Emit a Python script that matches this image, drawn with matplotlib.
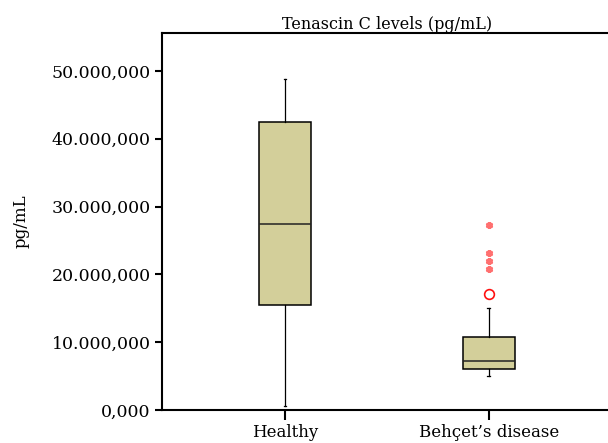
import matplotlib
matplotlib.use("Agg")
import matplotlib.pyplot as plt
from matplotlib.ticker import FuncFormatter

plt.rcParams['font.family'] = ['DejaVu Serif']

# box statistics (pg/mL)
groups = ["Healthy", "Behçet\u2019s disease"]
whisker_low = [0.6e6, 5.0e6]
q1 = [15.5e6, 6.0e6]
median = [27.4e6, 7.2e6]
q3 = [42.5e6, 10.8e6]
whisker_high = [48.8e6, 15.0e6]

# outliers of the Behçet's group
circle_outliers = [17.1e6]
star_outliers = [20.8e6, 22.0e6, 23.2e6, 27.3e6]

box_color = '#D3CF9A'

fig = plt.figure(figsize=(6.08, 4.43), dpi=100)
ax = fig.add_axes([0.2664, 0.0745, 0.74, 0.851])

stats = []
for i, g in enumerate(groups):
    stats.append({
        'label': g, 'whislo': whisker_low[i], 'q1': q1[i], 'med': median[i],
        'q3': q3[i], 'whishi': whisker_high[i], 'fliers': [],
    })

ax.bxp(stats, positions=[1, 2], widths=0.255, patch_artist=True,
       showfliers=False,
       boxprops=dict(facecolor=box_color, edgecolor='black', linewidth=1.1),
       medianprops=dict(color='#222222', linewidth=1.1),
       whiskerprops=dict(color='black', linewidth=0.9),
       capprops=dict(color='black', linewidth=0.9),
       capwidths=0.012)

ax.plot([2] * len(circle_outliers), circle_outliers, 'o', mfc='none',
        mec='#FF1010', mew=1.2, ms=7)
ax.plot([2] * len(star_outliers), star_outliers, marker=(6, 2, 0), ls='none',
        color='#FF7070', mew=1.8, ms=5)

ax.set_xlim(0.394, 2.606)
ax.set_ylim(0, 55.6e6)
ax.set_yticks([0, 10e6, 20e6, 30e6, 40e6, 50e6])
ax.yaxis.set_major_formatter(FuncFormatter(
    lambda v, p: '0,000' if v == 0 else f"{int(v / 1e6)}.000,000"))
ax.set_xticks([1, 2])
ax.set_xticklabels(groups)

for s in ax.spines.values():
    s.set_linewidth(1.5)
ax.tick_params(axis='y', length=5, width=1.5, labelsize=12.5, pad=3)
ax.tick_params(axis='x', length=7, width=1.5, labelsize=12, pad=3)

ax.set_ylabel('pg/mL', fontsize=12, labelpad=16)
ax.set_title('Tenascin C levels (pg/mL)', fontsize=11.5, pad=2)

fig.savefig('out.png', dpi=100)
